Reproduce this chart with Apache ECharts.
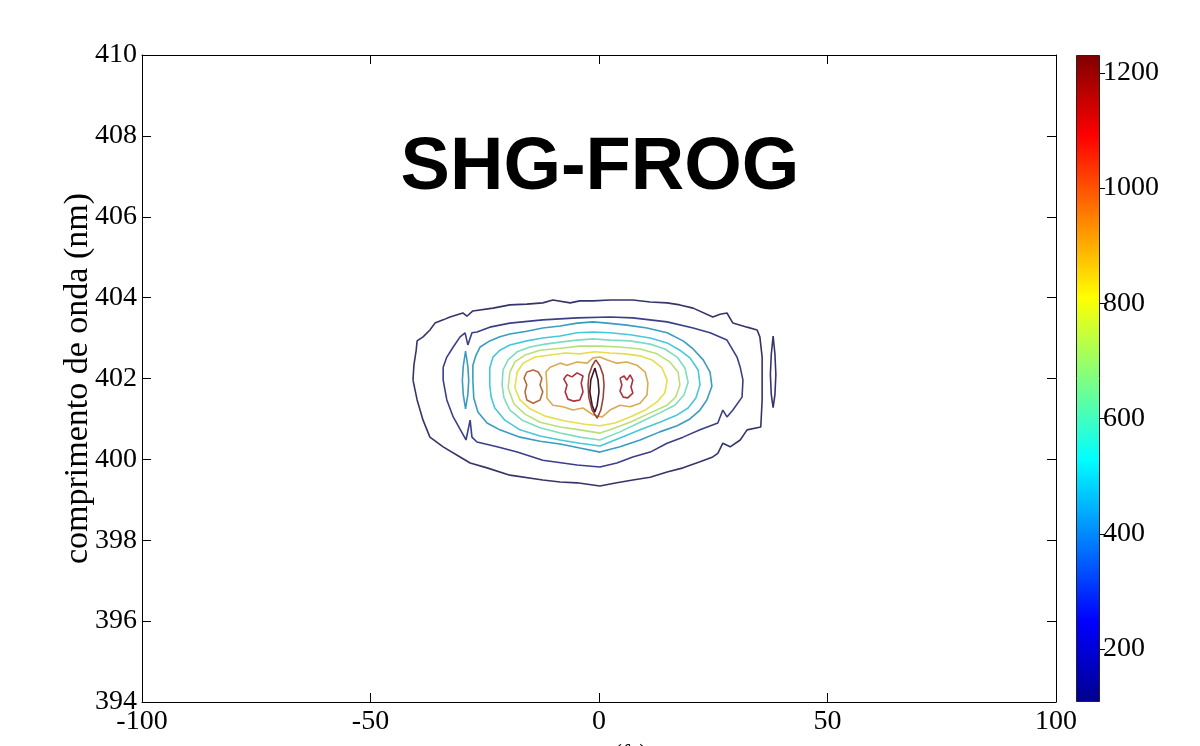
<!DOCTYPE html>
<html><head><meta charset="utf-8">
<script src="https://cdn.jsdelivr.net/npm/echarts@6/dist/echarts.min.js"></script>
<style>html,body{margin:0;padding:0;background:#fff}#c{width:1200px;height:746px}</style>
</head><body><div id="c"></div>
<script>
// ---- axes / colorbar ----
const xRange = [-100, 100];
const yRange = [394, 410];
const colorbarRange = [108, 1231];
const colorbarTicks = [200, 400, 600, 800, 1000, 1200];
const chartTitle = 'SHG-FROG';
const xName = 'atraso (fs)';
const yName = 'comprimento de onda (nm)';

// ---- contour lines (delay fs, wavelength nm) ----
const contour1 = [[-40.7,401.96],[-40.5,402.33],[-40.0,402.70],[-39.8,402.93],[-38.5,403.03],[-37.0,403.20],[-35.9,403.37],[-34.1,403.45],[-32.6,403.52],[-29.8,403.62],[-28.9,403.54],[-27.6,403.67],[-23.2,403.74],[-19.5,403.82],[-15.8,403.84],[-12.3,403.87],[-10.1,403.94],[-6.3,403.87],[-4.2,403.92],[-1.3,403.92],[2.4,403.94],[7.4,403.94],[11.2,403.89],[14.9,403.87],[17.7,403.82],[20.6,403.74],[24.9,403.52],[26.5,403.59],[28.0,403.62],[29.3,403.37],[32.4,403.27],[34.6,403.20],[35.2,403.03],[35.7,402.53],[35.7,401.96],[35.7,401.47],[35.4,400.80],[32.4,400.73],[30.9,400.48],[28.7,400.31],[27.1,400.40],[26.0,400.15],[24.9,400.06],[22.1,399.94],[18.4,399.79],[14.9,399.69],[11.2,399.56],[7.4,399.49],[3.9,399.42],[0.2,399.34],[-4.8,399.42],[-8.5,399.44],[-12.3,399.49],[-19.5,399.61],[-24.5,399.79],[-28.2,399.91],[-30.4,400.06],[-34.1,400.31],[-37.0,400.55],[-38.5,400.97],[-39.8,401.47]];
const island1 = [[38.1,403.05],[38.5,402.6],[38.7,402.1],[38.5,401.6],[38.1,401.28],[37.7,401.6],[37.5,402.1],[37.7,402.6]];
const contour2 = [[-34.1,402.28],[-33.3,402.53],[-31.9,402.78],[-30.4,403.03],[-29.3,403.13],[-28.7,402.83],[-27.8,403.13],[-26.7,403.15],[-23.9,403.27],[-19.5,403.37],[-12.3,403.45],[-4.8,403.50],[2.4,403.52],[7.4,403.50],[14.9,403.40],[20.6,403.25],[24.3,403.13],[28.0,402.95],[30.2,402.53],[30.9,402.28],[31.5,401.96],[31.3,401.54],[29.3,401.22],[28.0,401.05],[27.1,401.22],[26.0,400.90],[22.1,400.73],[18.4,400.55],[14.9,400.40],[11.2,400.18],[7.4,400.06],[3.9,399.91],[0.2,399.81],[-4.8,399.86],[-12.3,399.98],[-17.9,400.18],[-22.3,400.31],[-26.7,400.43],[-27.8,400.55],[-28.2,400.97],[-29.1,400.48],[-31.9,401.05],[-33.3,401.47],[-34.1,401.96]];
const contour3 = [[-27.6,401.96],[-27.6,402.33],[-26.9,402.58],[-26.0,402.78],[-23.9,402.93],[-21.7,403.03],[-19.5,403.10],[-15.8,403.17],[-12.3,403.25],[-8.5,403.30],[-4.8,403.37],[-1.3,403.40],[1.8,403.37],[6.1,403.32],[10.5,403.25],[14.9,403.13],[18.4,402.93],[20.6,402.73],[22.8,402.46],[24.3,402.16],[24.7,401.81],[23.6,401.47],[22.1,401.22],[19.9,401.00],[17.1,400.83],[13.3,400.68],[9.0,400.48],[4.6,400.31],[0.2,400.18],[-4.2,400.28],[-8.5,400.38],[-12.9,400.45],[-17.3,400.55],[-21.7,400.73],[-24.5,400.90],[-26.5,401.17],[-27.4,401.52]];
const island3 = [[-29.2,402.68],[-28.7,402.3],[-28.5,401.95],[-28.7,401.6],[-29.2,401.25],[-29.7,401.6],[-29.9,401.95],[-29.7,402.3]];
const contour4 = [[-23.9,401.84],[-23.9,402.26],[-23.2,402.53],[-21.7,402.70],[-19.5,402.83],[-15.8,402.93],[-12.3,403.00],[-8.5,403.05],[-4.8,403.13],[-1.3,403.15],[2.4,403.13],[6.8,403.08],[11.2,403.00],[14.9,402.88],[17.7,402.70],[19.9,402.51],[21.7,402.21],[22.1,401.84],[21.2,401.52],[19.5,401.27],[17.1,401.10],[13.3,400.92],[9.0,400.73],[4.6,400.53],[0.2,400.33],[-4.2,400.40],[-8.5,400.48],[-12.9,400.58],[-17.3,400.73],[-20.6,400.97],[-22.8,401.27],[-23.6,401.54]];
const contour5 = [[-21.2,401.84],[-21.0,402.21],[-19.9,402.46],[-17.9,402.66],[-15.1,402.78],[-11.8,402.85],[-8.5,402.90],[-4.8,402.95],[-1.3,402.98],[2.4,402.95],[6.8,402.93],[11.2,402.85],[14.4,402.73],[17.1,402.53],[18.8,402.26],[19.5,401.91],[18.6,401.59],[16.6,401.34],[13.3,401.15],[9.0,400.92],[4.6,400.68],[0.2,400.48],[-4.2,400.55],[-8.5,400.65],[-12.9,400.78],[-16.8,400.97],[-19.5,401.22],[-20.8,401.52]];
const contour6 = [[-19.9,401.77],[-19.5,402.16],[-18.4,402.41],[-16.2,402.58],[-12.9,402.70],[-8.5,402.75],[-4.2,402.80],[0.2,402.80],[4.6,402.78],[9.0,402.73],[12.7,402.61],[15.5,402.41],[17.3,402.16],[17.7,401.84],[16.8,401.54],[14.9,401.34],[11.2,401.15],[6.8,400.92],[2.4,400.73],[0.2,400.65],[-4.2,400.73],[-8.5,400.80],[-12.9,400.92],[-16.2,401.12],[-18.6,401.37]];
const contour7 = [[-18.4,401.77],[-17.9,402.16],[-16.6,402.38],[-14.0,402.53],[-10.7,402.58],[-7.4,402.63],[-4.2,402.61],[-0.9,402.66],[2.4,402.63],[5.7,402.61],[9.0,402.56],[11.6,402.46],[13.8,402.26],[14.9,401.96],[14.4,401.64],[12.7,401.42],[10.1,401.22],[6.8,401.05],[3.5,400.90],[0.2,400.83],[-3.1,400.87],[-7.4,400.95],[-11.8,401.07],[-15.1,401.25],[-17.3,401.47]];
const contour8 = [[-11.4,401.84],[-11.6,402.16],[-10.7,402.28],[-8.5,402.38],[-7.0,402.33],[-4.8,402.41],[-2.6,402.38],[-1.3,402.51],[0.2,402.53],[1.8,402.46],[3.9,402.38],[6.1,402.41],[8.3,402.33],[10.1,402.16],[10.7,401.89],[10.5,401.59],[9.0,401.39],[6.8,401.30],[4.6,401.34],[2.4,401.22],[0.7,401.05],[-1.3,401.10],[-3.5,401.27],[-5.7,401.22],[-7.9,401.30],[-10.1,401.34],[-11.4,401.52]];
const island9left = [[-15.8,402.16],[-14.4,402.21],[-13.3,402.16],[-12.5,402.01],[-12.9,401.84],[-12.3,401.67],[-12.9,401.47],[-14.4,401.39],[-15.8,401.47],[-16.2,401.67],[-15.8,401.84],[-16.4,402.01]];
const ring9center = [[-0.7,402.46],[0.2,402.31],[0.9,402.09],[1.1,401.84],[0.9,401.52],[0.4,401.22],[-0.4,401.02],[-1.5,401.22],[-2.2,401.52],[-2.4,401.84],[-2.2,402.09],[-1.5,402.31]];
const island10left = [[-7.0,402.09],[-5.9,402.04],[-4.8,402.14],[-3.5,402.06],[-3.9,401.89],[-3.5,401.67],[-4.2,401.47],[-5.5,401.44],[-6.8,401.49],[-7.4,401.67],[-7.0,401.84],[-7.7,401.99]];
const island10right = [[4.6,402.01],[5.5,402.06],[6.1,401.96],[6.8,402.09],[7.4,401.96],[7.0,401.79],[7.4,401.64],[6.3,401.52],[5.3,401.54],[4.6,401.69],[5.0,401.84]];
const lens11 = [[-0.9,402.26],[-0.2,401.96],[0.0,401.67],[-0.4,401.34],[-0.9,401.17],[-1.5,401.34],[-2.0,401.67],[-1.8,401.96]];

const contourColors = ['#35356a','#35356a','#3a3f88','#3a9cc0','#3a9cc0','#45c8dc','#7fdcc0','#b8e07a','#e6de4a','#d9ab52','#b86a3a','#9a4038','#b0303c','#b0303c','#3a1626'];
const contourList = [contour1, island1, contour2, contour3, island3, contour4, contour5, contour6, contour7, contour8, island9left, ring9center, island10left, island10right, lens11];

const serif = 'Liberation Serif';
const chart = echarts.init(document.getElementById('c'), null, {renderer: 'canvas'});

const series = contourList.map((pts, i) => ({
  type: 'line', xAxisIndex: 0, yAxisIndex: 0,
  data: pts.concat([pts[0]]),
  symbol: 'none', smooth: false, silent: true, animation: false,
  lineStyle: {color: contourColors[i], width: 1.6}
}));
series.push({
  type: 'bar', xAxisIndex: 2, yAxisIndex: 2, stack: 'cb', silent: true, animation: false,
  data: [colorbarRange[0]], barWidth: '100%', itemStyle: {color: 'rgba(0,0,0,0)'}
});
series.push({
  type: 'bar', xAxisIndex: 2, yAxisIndex: 2, stack: 'cb', silent: true, animation: false,
  data: [colorbarRange[1] - colorbarRange[0]], barWidth: '100%',
  itemStyle: {
    borderColor: '#222', borderWidth: 1,
    color: new echarts.graphic.LinearGradient(0, 0, 0, 1, [
      {offset: 0, color: '#800000'}, {offset: 0.125, color: '#ff0000'},
      {offset: 0.375, color: '#ffff00'}, {offset: 0.625, color: '#00ffff'},
      {offset: 0.875, color: '#0000ff'}, {offset: 1, color: '#00008f'}
    ])
  }
});

const labelFont = {fontFamily: serif, fontSize: 28, color: '#000'};
chart.setOption({
  backgroundColor: '#fff',
  animation: false,
  title: {
    text: chartTitle, left: 'center', top: 127,
    textStyle: {fontFamily: 'Liberation Sans', fontWeight: 'bold', fontSize: 74, color: '#000'}
  },
  grid: [
    {left: 142, top: 55, width: 914, height: 647, show: false, containLabel: false, outerBoundsMode: 'none'},
    {left: 1076, top: 55, width: 24, height: 647, show: false, containLabel: false, outerBoundsMode: 'none'}
  ],
  xAxis: [
    {gridIndex: 0, type: 'value', min: xRange[0], max: xRange[1], interval: 50, position: 'bottom',
     axisLine: {show: true, onZero: false, lineStyle: {color: '#000', width: 1}},
     axisTick: {show: true, inside: true, length: 9, lineStyle: {color: '#000'}},
     axisLabel: Object.assign({margin: 6, formatter: v => String(v)}, labelFont),
     splitLine: {show: false},
     name: xName, nameLocation: 'middle', nameGap: 40, nameMoveOverlap: false,
     nameTextStyle: {fontFamily: serif, fontSize: 24, color: '#000', verticalAlign: 'top'}},
    {gridIndex: 0, type: 'value', min: xRange[0], max: xRange[1], interval: 50, position: 'top',
     axisLine: {show: true, onZero: false, lineStyle: {color: '#000', width: 1}},
     axisTick: {show: true, inside: true, length: 9, lineStyle: {color: '#000'}},
     axisLabel: {show: false}, splitLine: {show: false}},
    {gridIndex: 1, type: 'category', data: [''], show: false}
  ],
  yAxis: [
    {gridIndex: 0, type: 'value', min: yRange[0], max: yRange[1], interval: 2, position: 'left',
     axisLine: {show: true, onZero: false, lineStyle: {color: '#000', width: 1}},
     axisTick: {show: true, inside: true, length: 9, lineStyle: {color: '#000'}},
     axisLabel: Object.assign({margin: 5, formatter: v => String(v)}, labelFont),
     splitLine: {show: false},
     name: yName, nameLocation: 'middle', nameGap: 47, nameRotate: 90, nameMoveOverlap: false,
     nameTextStyle: {fontFamily: serif, fontSize: 34, color: '#000'}},
    {gridIndex: 0, type: 'value', min: yRange[0], max: yRange[1], interval: 2, position: 'right',
     axisLine: {show: true, onZero: false, lineStyle: {color: '#000', width: 1}},
     axisTick: {show: true, inside: true, length: 9, lineStyle: {color: '#000'}},
     axisLabel: {show: false}, splitLine: {show: false}},
    {gridIndex: 1, type: 'value', min: colorbarRange[0], max: colorbarRange[1], position: 'right',
     axisLine: {show: false},
     axisTick: {show: true, inside: false, length: 5, customValues: colorbarTicks, lineStyle: {color: '#000'}},
     axisLabel: Object.assign({margin: 3, customValues: colorbarTicks, formatter: v => String(v)}, labelFont),
     splitLine: {show: false}}
  ],
  series: series
});
</script>
</body></html>
